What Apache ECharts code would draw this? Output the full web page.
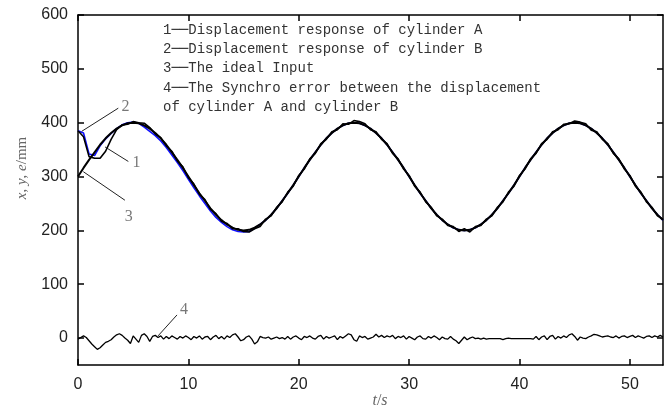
<!DOCTYPE html>
<html><head><meta charset="utf-8">
<script src="https://cdn.jsdelivr.net/npm/echarts@6/dist/echarts.min.js"></script>
<style>html,body{margin:0;padding:0;background:#fff}#c{width:667px;height:408px}</style>
</head><body><div id="c"></div><script>
// ---- data ----
const X_TICKS = [0,10,20,30,40,50];
const Y_TICKS = [0,100,200,300,400,500,600];
const T_HALF = [0,0.5,1,1.5,2,2.5,3,3.5,4,4.5,5,5.5,6,6.5,7,7.5,8,8.5,9,9.5,10,10.5,11,11.5,12,12.5,13,13.5,14,14.5,15,15.5,16,16.5,17,17.5,18,18.5,19,19.5,20,20.5,21,21.5,22,22.5,23,23.5,24,24.5,25,25.5,26,26.5,27,27.5,28,28.5,29,29.5,30,30.5,31,31.5,32,32.5,33,33.5,34,34.5,35,35.5,36,36.5,37,37.5,38,38.5,39,39.5,40,40.5,41,41.5,42,42.5,43,43.5,44,44.5,45,45.5,46,46.5,47,47.5,48,48.5,49,49.5,50,50.5,51,51.5,52,52.5,53];
const IDEAL = [300,316,331,345,359,371,381,389,395,399,400,399,395,389,381,371,359,345,331,316,300,284,269,255,241,229,219,211,205,201,200,201,205,211,219,229,241,255,269,284,
300,316,331,345,359,371,381,389,395,399,400,399,395,389,381,371,359,345,331,316,300,284,269,255,241,229,219,211,205,201,200,201,205,211,219,229,241,255,269,284,
300,316,331,345,359,371,381,389,395,399,400,399,395,389,381,371,359,345,331,316,300,284,269,255,241,229,219];
const CYL_A = [385,374,337,334,334,347,369,387,396,397,402,400,399,391,379,372,357,347,329,318,
298,286,267,257,239,231,217,213,203,203,198,197,203,207,221,227,243,253,271,282,
302,314,333,343,361,369,383,387,398,397,404,402,398,387,383,369,361,343,333,314,
302,282,271,253,243,227,221,209,207,198,203,197,207,209,221,227,243,253,271,282,
302,314,333,343,361,369,383,387,397,398,403,401,398,386,383,369,361,343,333,314,
302,282,271,253,243,227,221];
const CYL_B = [385,381,342,339,357,370,380,389,396,400,401,399,392,384,376,366,354,340,326,311,295,279,264,250,236,224,215,207,201,198,197,198,204,211,
219,229,241,255,269,284,
300,316,331,345,359,371,381,389,395,399,400,399,395,389,381,371,359,345,331,316,300,284,269,255,241,229,219,211,205,201,200,201,205,211,219,229,241,255,269,284,
300,316,331,345,359,371,381,389,395,399,400,399,395,389,381,371,359,345,331,316,300,284,269,255,241,229,219];
const T_QUARTER = [0,0.25,0.5,0.75,1,1.25,1.5,1.75,2,2.25,2.5,2.75,3,3.25,3.5,3.75,4,4.25,4.5,4.75,5,5.25,5.5,5.75,6,6.25,6.5,6.75,7,7.25,7.5,7.75,8,8.25,8.5,8.75,9,9.25,9.5,9.75,10,10.25,10.5,10.75,11,11.25,11.5,11.75,12,12.25,12.5,12.75,13,13.25,13.5,13.75,14,14.25,14.5,14.75,15,15.25,15.5,15.75,16,16.25,16.5,16.75,17,17.25,17.5,17.75,18,18.25,18.5,18.75,19,19.25,19.5,19.75,20,20.25,20.5,20.75,21,21.25,21.5,21.75,22,22.25,22.5,22.75,23,23.25,23.5,23.75,24,24.25,24.5,24.75,25,25.25,25.5,25.75,26,26.25,26.5,26.75,27,27.25,27.5,27.75,28,28.25,28.5,28.75,29,29.25,29.5,29.75,30,30.25,30.5,30.75,31,31.25,31.5,31.75,32,32.25,32.5,32.75,33,33.25,33.5,33.75,34,34.25,34.5,34.75,35,35.25,35.5,35.75,36,36.25,36.5,36.75,37,37.25,37.5,37.75,38,38.25,38.5,38.75,39,39.25,39.5,39.75,40,40.25,40.5,40.75,41,41.25,41.5,41.75,42,42.25,42.5,42.75,43,43.25,43.5,43.75,44,44.25,44.5,44.75,45,45.25,45.5,45.75,46,46.25,46.5,46.75,47,47.25,47.5,47.75,48,48.25,48.5,48.75,49,49.25,49.5,49.75,50,50.25,50.5,50.75,51,51.25,51.5,51.75,52,52.25,52.5,52.75,53];
const SYNC_ERROR = [-2,1,4,1, -5,-11,-16,-21, -18,-13,-8,-6, -3,2,6,8, 5,0,-4,-10, 4,-2,-8,5, 8,3,-6,3, 5,1,4,-2, 3,-1,4,1, -2,3,0,4,
1,-3,3,0, 4,-2,2,3, -3,2,5,-1, 3,-2,4,1, 6,8,2,-5, -3,2,4,-2, -11,-7,3,1, 0,2,-2,0, 2,-1,1,-2, 3,-2,2,4,
0,-3,3,1, 4,0,-2,3, 5,-2,3,0, 2,4,-3,3, 0,4,8,6, -3,-6,4,1, 3,-2,0,2, 7,2,5,1, 4,2,5,-1, 3,1,4,-2,
3,0,-3,2, 4,-1,-2,3, 0,4,1,-3, 2,-1,-2,3, -2,-5,-10,-4, 2,-3,0,2, -1,0,-2,0, -2,-1,-1,-1, -1,-1,-3,-1, 0,-1,-1,-1,
-1,-1,-1,-1, -1,-2,3,-3, 2,4,-3,3, 5,-2,3,0, 4,1,6,8, 3,-4,2,0, -1,2,4,7, 6,4,2,3, 4,2,1,4, 0,3,4,1,
3,5,1,4, 2,0,3,4, 1,4,2,5, 2];
const LEGEND_LINES = [
  '1—Displacement response of cylinder A',
  '2—Displacement response of cylinder B',
  '3—The ideal Input',
  '4—The Synchro error between the displacement',
  'of cylinder A and cylinder B'
];
// annotation leaders (data coordinates) and their numbers
const LEADERS = [
  [[0.34,384],[3.65,427]],
  [[2.45,355],[4.56,328]],
  [[0.48,309],[4.25,256]],
  [[7.25,4],[8.97,43]]
];
const LEADER_LABELS = [[4.3,430,'2'],[5.3,325,'1'],[4.6,226,'3'],[9.6,52,'4']];

// ---- chart ----
const zip = (t, v) => t.map((x, i) => [x, v[i]]);
const lineStyleAxis = {color:'#000', width:1.5};
function xAx(pos, labels){
  return {type:'value', min:0, max:53, position:pos,
    axisLine:{show:true, onZero:false, lineStyle:lineStyleAxis},
    axisTick:{show:true, inside:true, length:6, customValues:X_TICKS, lineStyle:lineStyleAxis},
    axisLabel:{show:labels, customValues:X_TICKS, margin:12, fontSize:16, fontFamily:'Liberation Sans', color:'#222'},
    splitLine:{show:false}};
}
function yAx(pos, labels){
  return {type:'value', min:-50, max:600, position:pos,
    axisLine:{show:true, onZero:false, lineStyle:lineStyleAxis},
    axisTick:{show:true, inside:true, length:6, customValues:Y_TICKS, lineStyle:lineStyleAxis},
    axisLabel:{show:labels, customValues:Y_TICKS, margin:10, fontSize:16, fontFamily:'Liberation Sans', color:'#222'},
    splitLine:{show:false}};
}
const series = [
  {type:'line', name:'B', data:zip(T_HALF, CYL_B), showSymbol:false, z:2, lineStyle:{color:'#1010ff', width:1.6}},
  {type:'line', name:'Ideal', data:zip(T_HALF, IDEAL), showSymbol:false, z:3, lineStyle:{color:'#000', width:2}},
  {type:'line', name:'A', data:zip(T_HALF, CYL_A), showSymbol:false, z:4, lineStyle:{color:'#000', width:1.6}},
  {type:'line', name:'Error', data:zip(T_QUARTER, SYNC_ERROR), showSymbol:false, z:4, lineStyle:{color:'#000', width:1.3}}
];
LEADERS.forEach(l => series.push({type:'line', data:l, showSymbol:false, z:5, silent:true, lineStyle:{color:'#222', width:1}}));
series.push({type:'scatter', data:LEADER_LABELS, symbolSize:1, itemStyle:{color:'rgba(0,0,0,0)'}, z:6,
  label:{show:true, position:'inside', formatter:p=>p.value[2], fontFamily:'Liberation Serif', fontSize:16, color:'#555'}});

const legendText = LEGEND_LINES.map(s => s.split('—').map(p => p ? '{n|' + p + '}' : '').join('{d|──}')).join('\n');
const chart = echarts.init(document.getElementById('c'));
chart.setOption({
  animation:false,
  grid:{left:78, right:4, top:15, bottom:43},
  xAxis:[xAx('bottom', true), xAx('top', false)],
  yAxis:[yAx('left', true), yAx('right', false)],
  series:series,
  graphic:[
    {type:'text', left:163, top:23, z:10, style:{text:legendText,
      rich:{n:{fontFamily:'Liberation Mono', fontSize:14, lineHeight:19.3, fill:'#333'},
            d:{fontFamily:'DejaVu Sans Mono', fontSize:14, lineHeight:19.3, fill:'#333'}}}},
    {type:'text', x:22, y:168, rotation:Math.PI/2, z:10, style:{text:'{i|x}{n|, }{i|y}{n|, }{i|e}{n|/mm}', align:'center', verticalAlign:'middle',
      rich:{i:{fontFamily:'Liberation Serif', fontStyle:'italic', fontSize:15, fill:'#666'}, n:{fontFamily:'Liberation Serif', fontSize:15, fill:'#666'}}}},
    {type:'text', x:380, y:401, z:10, style:{text:'{i|t}{n|/}{i|s}', align:'center', verticalAlign:'middle',
      rich:{i:{fontFamily:'Liberation Serif', fontStyle:'italic', fontSize:16, fill:'#666'}, n:{fontFamily:'Liberation Serif', fontSize:16, fill:'#666'}}}}
  ]
});
</script></body></html>
